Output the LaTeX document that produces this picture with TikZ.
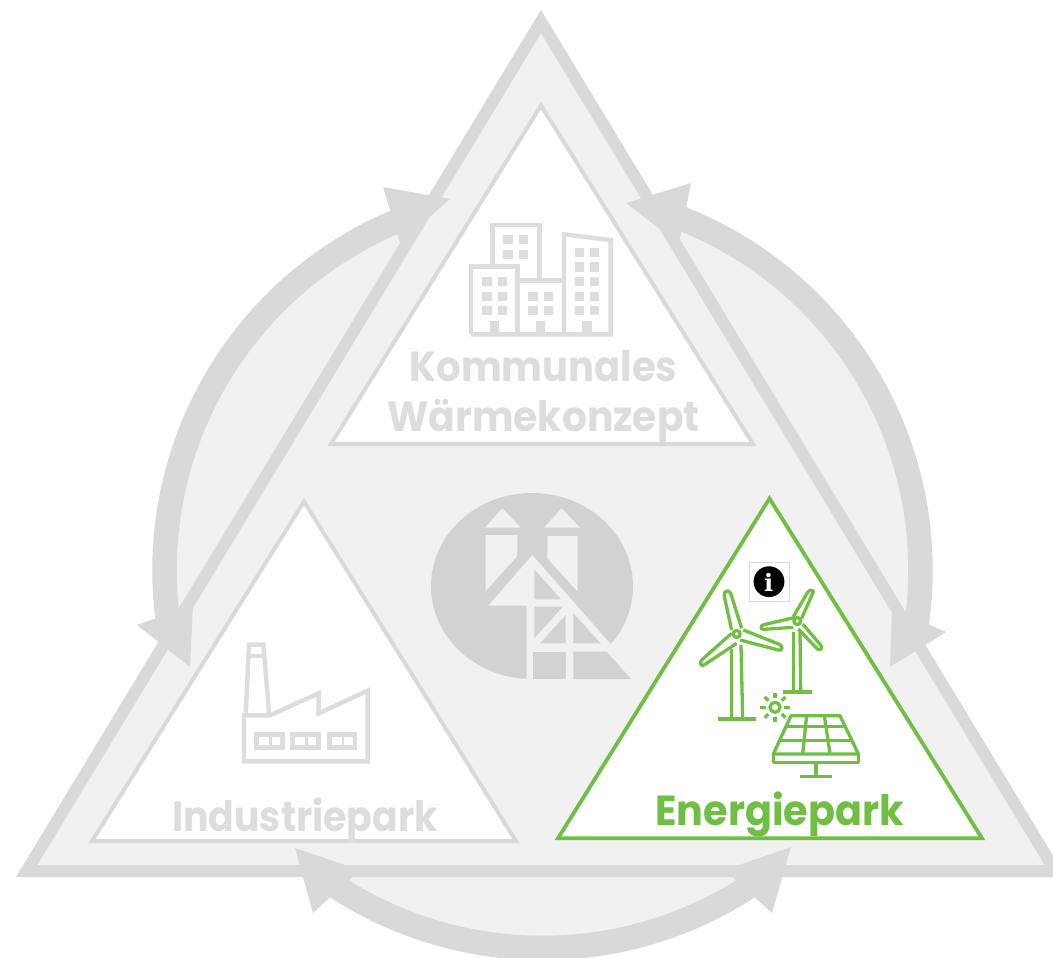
\documentclass[tikz,border=0pt]{standalone}
\usepackage{fontspec}
\setmainfont{Poppins}[BoldFont={Poppins Bold}]
\newfontfamily\slabfont{DejaVu Serif}
\definecolor{bgfill}{HTML}{F1F1F1}
\definecolor{lineg}{HTML}{D9D9D9}
\definecolor{logog}{HTML}{D2D2D2}
\definecolor{icong}{HTML}{DDDDDD}
\definecolor{green1}{HTML}{70BF44}
\tikzset{
 outer/.style={fill=bgfill,draw=lineg,line width=12pt,miter limit=10},
 innertri/.style={fill=white,draw=lineg,line width=4pt,miter limit=10},
 greentri/.style={fill=white,draw=green1,line width=3.8pt,miter limit=10},
 arcline/.style={draw=lineg,line width=24.5pt},
 ahead/.style={fill=lineg},
 lbl/.style={font=\fontsize{42}{42}\selectfont\bfseries,text=icong,inner sep=0pt,anchor=base},
 glbl/.style={font=\fontsize{42}{42}\selectfont\bfseries,text=green1,inner sep=0pt,anchor=base},
 iconline/.style={draw=icong,line width=4.4pt,miter limit=10},
 gline/.style={draw=green1,line width=3.3pt,line join=round},
 gthick/.style={draw=green1,line width=4pt},
}
\begin{document}
\begin{tikzpicture}[x=1pt,y=-1pt]
\useasboundingbox (0,0) rectangle (1053,958);
\clip (0,0) rectangle (1053,958);
% lens fill
\fill[bgfill] (542.5,570) circle[radius=378pt];
% outer triangle
\draw[outer] (541,21.6) -- (1055.3,871) -- (26.7,871) -- cycle;
% arcs
\draw[arcline] plot[domain=-110:-188,samples=80] ({542.5+378*cos(\x)},{570+378*sin(\x)});
\draw[arcline] plot[domain=-70:8,samples=80] ({542.5+378*cos(\x)},{570+378*sin(\x)});
\draw[arcline] plot[domain=123:57,samples=60] ({542.5+378*cos(\x)},{570+378*sin(\x)});
% arrow heads
\fill[ahead] (450,199) -- (383,187) -- (400,243) -- cycle;
\fill[ahead] (190,667) -- (137,625) -- (193,605) -- cycle;
\fill[ahead] (626,203) -- (691,183) -- (679,244) -- cycle;
\fill[ahead] (890,667) -- (946,632) -- (892,608) -- cycle;
\fill[ahead] (295,848) -- (313,913) -- (360,870) -- cycle;
\fill[ahead] (791,847) -- (772,913) -- (725,870) -- cycle;
% inner triangles
\draw[innertri] (541,105.5) -- (753,444) -- (331,444) -- cycle;
\draw[innertri] (304,501.5) -- (516,841) -- (92,841) -- cycle;
\draw[greentri] (769.5,498.5) -- (982,838.3) -- (558,838.3) -- cycle;
% logo
\begin{scope}[shift={(420,480)},x=0.33333pt,y=-0.33333pt]
\fill[logog] (336,318) ellipse[x radius=101pt,y radius=93pt];
\fill[bgfill] (247,85) -- (195,143) -- (302,143) -- cycle;
\fill[bgfill] (425,85) -- (372,143) -- (480,143) -- cycle;
\fill[bgfill] (197,165) -- (292,165) -- (292,228) -- (197,333) -- cycle;
\fill[bgfill] (382,168) -- (473,168) -- (473,335) -- (382,235) -- cycle;
\fill[bgfill] (337,225) -- (205,377) -- (320,377) -- (320,600) -- (650,600) -- (650,490) -- (570,490) -- cycle;
\fill[logog] (343,268) -- (343,358) -- (423,358) -- cycle;
\fill[logog] (343,380) -- (428,380) -- (343,475) -- cycle;
\fill[logog] (437,405) -- (437,490) -- (360,490) -- cycle;
\fill[logog] (460,400) -- (460,490) -- (542,490) -- cycle;
\fill[logog] (340,515) rectangle (437,597);
\fill[logog] (460,515) -- (560,515) -- (633,597) -- (460,597) -- cycle;
\end{scope}
% city
\begin{scope}[shift={(460,215)},x=0.33333pt,y=-0.33333pt]
\draw[iconline] (33,358) -- (33,155) -- (173,155) -- (173,358);
\draw[iconline] (97,155) -- (97,30) -- (238,30) -- (238,197);
\draw[iconline] (173,197) -- (312,197);
\draw[iconline] (312,358) -- (312,58) -- (452,75) -- (452,358) -- (33,358);
\foreach \a/\b in {130/60,176/60,130/105,176/105,
  67/185,113/185,67/230,113/230,67/273,113/273,
  205/230,252/230,205/273,252/273,
  345/98,390/98,345/142,390/142,345/186,390/186,345/230,390/230,345/273,390/273}
  {\fill[icong] (\a,\b) rectangle ++(28,28);}
\fill[icong] (90,318) rectangle (118,358);
\fill[icong] (228,318) rectangle (256,358);
\fill[icong] (367,318) rectangle (395,358);
\end{scope}
% factory
\begin{scope}[shift={(230,630)},x=0.33333pt,y=-0.33333pt]
\draw[iconline] (42,256) -- (120,256) -- (266,190) -- (266,250) -- (413,182) -- (413,394) -- (42,394) -- cycle;
\draw[iconline] (47,256) -- (57,44) -- (100,44) -- (118,256);
\draw[iconline] (55,78) -- (102,78);
\foreach \a in {72,180,290}{
  \fill[icong] (\a,307) rectangle ++(92,53);
  \fill[white] (\a+16,322) rectangle ++(29,24);
  \fill[white] (\a+53,322) rectangle ++(25,24);
}
\end{scope}
% energy icons
\begin{scope}[shift={(690,550)},x=0.33333pt,y=-0.33333pt]
\draw[draw=lineg,fill=white,line width=0.7pt] (178,37) rectangle (297,155);
\fill[black] (237,95) circle[radius=15.4pt];
\node[inner sep=0pt,text=white] (infoi) at (236,96) {\slabfont\bfseries\fontsize{24}{24}\selectfont i};
% turbine 1
\draw[gline] (125,240) -- (103,140) .. controls (98,122) and (118,118) .. (122,130) -- (155,235);
\draw[gline] (160,240) -- (268,283) .. controls (280,288) and (278,305) .. (265,300) -- (150,270);
\draw[gline] (125,250) -- (37,328) .. controls (25,338) and (35,352) .. (42,345) -- (140,280);
\draw[gline] (140,252) circle[radius=3.5pt];
\draw[gline] (125,298) -- (125,505);
\draw[gline] (153,285) -- (158,505);
\draw[gthick] (83,508) -- (198,508);
% turbine 2
\draw[gline] (310,200) -- (353,127) .. controls (360,115) and (376,122) .. (368,130) -- (335,205);
\draw[gline] (312,203) -- (222,224) .. controls (210,226) and (210,240) .. (222,238) -- (310,232);
\draw[gline] (338,222) -- (392,285) .. controls (400,295) and (390,303) .. (382,297) -- (325,237);
\draw[gline] (322,213) circle[radius=3.5pt];
\draw[gline] (311,245) -- (311,422);
\draw[gline] (330,245) -- (332,422);
\draw[gthick] (280,427) -- (365,427);
% sun
\draw[gline] (255,472) circle[radius=5pt];
\foreach \r in {0,45,...,315}{
  \draw[gline,line join=miter] ({255+28*cos(\r)},{472+28*sin(\r)}) -- ({255+44*cos(\r)},{472+44*sin(\r)});
}
% solar panel
\draw[gline] (303,497) -- (450,497) -- (505,612) -- (250,612) -- cycle;
\draw[gline] (250,612) -- (250,638) -- (505,638) -- (505,612);
\draw[gline] (288,530) -- (467,530);
\draw[gline] (270,572) -- (487,572);
\draw[gline] (350,497) -- (338,612);
\draw[gline] (403,497) -- (420,612);
\draw[gline] (378,638) -- (378,680);
\draw[gline] (330,680) -- (425,680);
\end{scope}
% labels
\node[lbl] (kom) at (543.5,381) {\scalebox{0.917}[1]{Kommunales}};
\node[lbl] (waerme) at (543.5,431) {\scalebox{0.934}[1]{Wärmekonzept}};
\node[lbl] (ind) at (305,831) {\scalebox{0.90}[1]{Industriepark}};
\node[glbl] (ene) at (779.5,825) {\scalebox{0.946}[1]{Energiepark}};
\end{tikzpicture}
\end{document}
